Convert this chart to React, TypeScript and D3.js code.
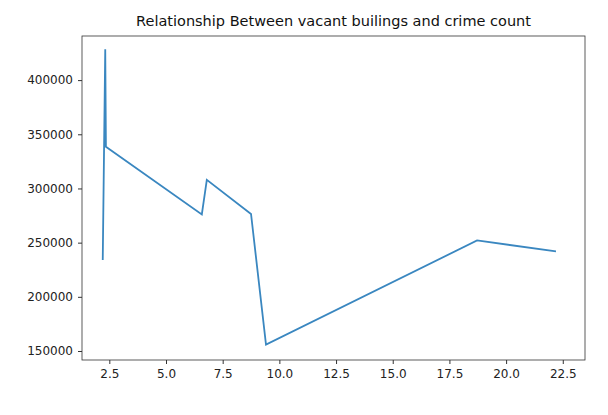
import React, { useEffect, useRef } from 'react';
import * as d3 from 'd3';

const vacant = [2.21, 2.32, 2.35, 6.58, 6.8, 8.75, 9.41, 18.72, 22.2];
const crimes = [234000, 428500, 338500, 276000, 308000, 276500, 156000, 252000, 242000];
const xTicks = [2.5, 5, 7.5, 10, 12.5, 15, 17.5, 20, 22.5];
const yTicks = [150000, 200000, 250000, 300000, 350000, 400000];

export default function App() {
  const svgRef = useRef<SVGSVGElement | null>(null);

  useEffect(() => {
    if (!svgRef.current) return;
    const svg = d3.select(svgRef.current);
    svg.selectAll('*').remove();
    const margin = { top: 36, right: 23, bottom: 55, left: 82 };
    const width = 608, height = 415;

    const x = d3.scaleLinear().domain([1.295, 23.48]).range([margin.left, width - margin.right]);
    const y = d3.scaleLinear().domain([141700, 440700]).range([height - margin.bottom, margin.top]);

    const font = 'DejaVu Sans, sans-serif';

    const gx = svg.append('g')
      .attr('transform', `translate(0,${height - margin.bottom})`)
      .call(d3.axisBottom(x).tickValues(xTicks).tickFormat(d3.format('.1f')).tickSize(4).tickPadding(5));
    const gy = svg.append('g')
      .attr('transform', `translate(${margin.left},0)`)
      .call(d3.axisLeft(y).tickValues(yTicks).tickFormat(d3.format('d')).tickSize(4).tickPadding(5));
    [gx, gy].forEach(g => {
      g.select('.domain').remove();
      g.selectAll('text').attr('font-family', font).attr('font-size', 12).attr('fill', '#222');
      g.selectAll('line').attr('stroke', '#333');
    });

    svg.append('rect')
      .attr('x', margin.left).attr('y', margin.top)
      .attr('width', width - margin.left - margin.right)
      .attr('height', height - margin.top - margin.bottom)
      .attr('fill', 'none').attr('stroke', '#333').attr('stroke-width', 0.8);

    const line = d3.line<number>().x((_, i) => x(vacant[i])).y(d => y(d));
    svg.append('path')
      .datum(crimes)
      .attr('d', line)
      .attr('fill', 'none')
      .attr('stroke', '#3a87c0')
      .attr('stroke-width', 1.8);

    svg.append('text')
      .attr('x', (margin.left + width - margin.right) / 2)
      .attr('y', margin.top - 10)
      .attr('text-anchor', 'middle')
      .attr('font-family', font)
      .attr('font-size', 14.5)
      .attr('fill', '#111')
      .text('Relationship Between vacant builings and crime count');
  }, []);

  return <svg ref={svgRef} width={608} height={415} style={{ position: 'absolute', left: 0, top: 0, background: '#fff' }} />;
}
